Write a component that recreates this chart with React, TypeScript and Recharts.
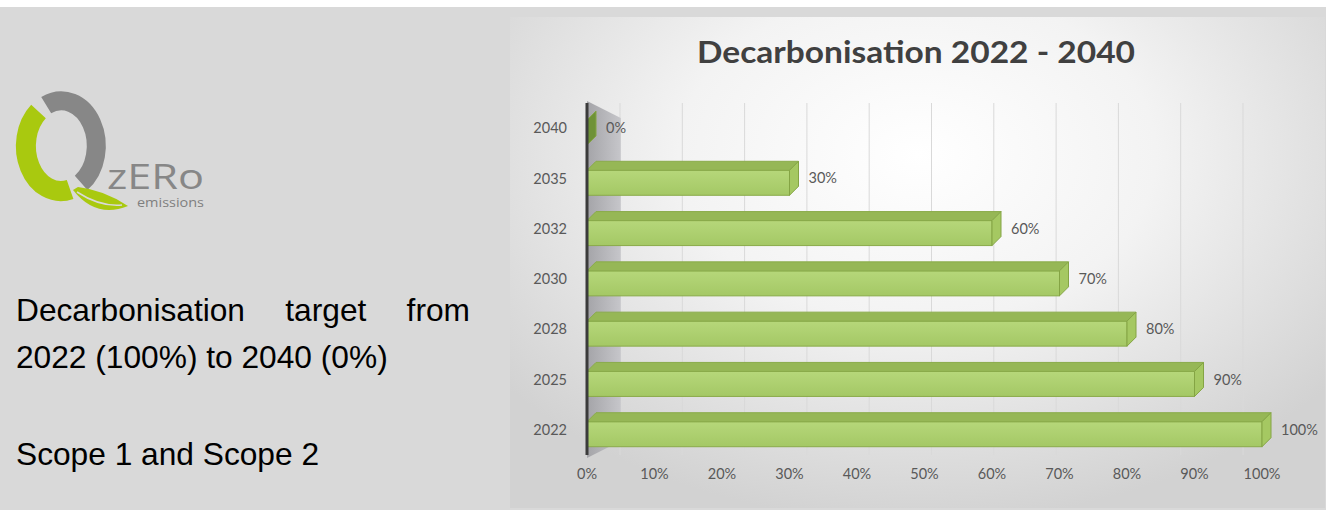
import {
  BarChart,
  Bar,
  XAxis,
  YAxis,
  CartesianGrid,
  ReferenceArea,
  LabelList,
} from "recharts";

const years = ["2040", "2035", "2032", "2030", "2028", "2025", "2022"];
const targetShare = [0, 0.3, 0.6, 0.7, 0.8, 0.9, 1.0];
const pctTicks = [0, 0.1, 0.2, 0.3, 0.4, 0.5, 0.6, 0.7, 0.8, 0.9, 1.0];

const data = years.map((year, i) => ({ year, share: targetShare[i] }));

const pct = (v: number) => `${Math.round(v * 100)}%`;
const tickFont = { fontFamily: "Lato", fontSize: 14.5, fill: "#595959" };

// fake 3D bar: front face + top face + right side face
function Bar3D(props: any) {
  const { x, y, width, height } = props;
  const d = 9;
  const w = Math.max(width || 0, 0);
  const top = `${x},${y + d} ${x + d},${y} ${x + w + d},${y} ${x + w},${y + d}`;
  const side = `${x + w},${y + d} ${x + w + d},${y} ${x + w + d},${y + height - d} ${x + w},${y + height}`;
  return (
    <g>
      {w > 0 && (
        <rect x={x} y={y + d} width={w} height={height - d} fill="url(#barFront)" stroke="#8aab4a" strokeWidth={1} />
      )}
      {w > 0 && <polygon points={top} fill="#96b756" stroke="#8aab4a" strokeWidth={1} />}
      <polygon points={side} fill={w > 0 ? "#a5c862" : "#6f9238"} stroke="#84a444" strokeWidth={1} />
    </g>
  );
}

function Wall(props: any) {
  const { x, y, width, height } = props;
  const pts = `${x},${y - 2} ${x + width},${y + 15} ${x + width},${y + height - 14} ${x},${y + height + 3}`;
  return <polygon points={pts} fill="url(#wallFill)" />;
}

// gridlines sit on the back wall of the 3D plot, a bit narrower than the front axis
const backGrid = (props: any) => {
  const off = props?.offset;
  if (!off) return [];
  return pctTicks.map((t) => off.left + 33 + t * (off.width - 52));
};

function Logo() {
  return (
    <svg width={230} height={230} style={{ position: "absolute", left: 0, top: 0 }}>
      <path d="M46.2 105.2 A35 45 0 0 1 81.1 182.9" fill="none" stroke="#878787" strokeWidth={19} />
      <path d="M70.1 189.5 A35 45 0 0 1 38.5 111.5" fill="none" stroke="#a9c90f" strokeWidth={20} />
      <path d="M73 190 Q 96 219 128 206 Q 104 190 78 187 Z" fill="#a9c90f" />
      <path d="M77 192 Q 100 207 122 205" fill="none" stroke="#d9d9d9" strokeWidth={1.5} />
      <text x={107} y={189} fontFamily="Open Sans" fontSize={35} fill="#878787" textLength={97} lengthAdjust="spacingAndGlyphs">
        zERo
      </text>
      <text x={137} y={207} fontFamily="Open Sans" fontSize={12.5} fill="#7f7f7f" textLength={67} lengthAdjust="spacingAndGlyphs">
        emissions
      </text>
    </svg>
  );
}

export default function App() {
  const bodyText = { fontFamily: "'Liberation Sans', Arial, sans-serif", fontSize: 31.7, color: "#000", lineHeight: "47px" };
  return (
    <div style={{ position: "absolute", left: 0, top: 0, width: 1340, height: 510, background: "#fff" }}>
      <div style={{ position: "absolute", left: 0, top: 7, width: 1326, height: 503, background: "#d9d9d9" }} />
      <Logo />
      <div style={{ ...bodyText, position: "absolute", left: 16, top: 287, width: 454, textAlign: "justify", margin: 0 }}>
        Decarbonisation target from 2022 (100%) to 2040 (0%)
      </div>
      <div style={{ ...bodyText, position: "absolute", left: 16, top: 431, margin: 0 }}>Scope 1 and Scope 2</div>

      <div
        style={{
          position: "absolute",
          left: 510,
          top: 17,
          width: 815,
          height: 491,
          background:
            "radial-gradient(ellipse 65% 75% at 50% 28%, #ffffff 0%, #f3f3f3 45%, #d2d2d2 100%)",
        }}
      >
        <svg width={815} height={80} style={{ position: "absolute", left: 0, top: 0 }}>
          <text
            x={187}
            y={46}
            fontFamily="Lato"
            fontWeight="bold"
            fontSize={30}
            fill="#404040"
            textLength={438}
            lengthAdjust="spacingAndGlyphs"
          >
            Decarbonisation 2022 - 2040
          </text>
        </svg>
        <div style={{ position: "absolute", left: 0, top: 0 }}>
          <BarChart
            width={815}
            height={491}
            data={data}
            layout="vertical"
            barSize={34}
            margin={{ top: 86, right: 63, left: 0, bottom: 0 }}
          >
            <defs>
              <linearGradient id="barFront" x1="0" y1="0" x2="0" y2="1">
                <stop offset="0%" stopColor="#b6d77a" />
                <stop offset="100%" stopColor="#a4c865" />
              </linearGradient>
              <linearGradient id="wallFill" x1="0" y1="0" x2="1" y2="0">
                <stop offset="0%" stopColor="#a4a4a8" />
                <stop offset="100%" stopColor="#c6c6ca" />
              </linearGradient>
            </defs>
            <CartesianGrid horizontal={false} stroke="#d9d9d9" verticalCoordinatesGenerator={backGrid} />
            <XAxis
              type="number"
              domain={[0, 1]}
              ticks={pctTicks}
              tickFormatter={pct}
              axisLine={false}
              tickLine={false}
              tickSize={0}
              tickMargin={14}
              height={53}
              tick={tickFont}
            />
            <YAxis
              type="category"
              dataKey="year"
              width={77}
              tickLine={false}
              tickSize={0}
              tickMargin={20}
              axisLine={{ stroke: "#3b3b3b", strokeWidth: 3 }}
              tick={tickFont}
            />
            <ReferenceArea x1={0} x2={0.05} shape={Wall} />
            <Bar dataKey="share" shape={Bar3D} minPointSize={0} isAnimationActive={false}>
              <LabelList dataKey="share" position="right" offset={19} formatter={pct} style={tickFont} />
            </Bar>
          </BarChart>
        </div>
      </div>
    </div>
  );
}
